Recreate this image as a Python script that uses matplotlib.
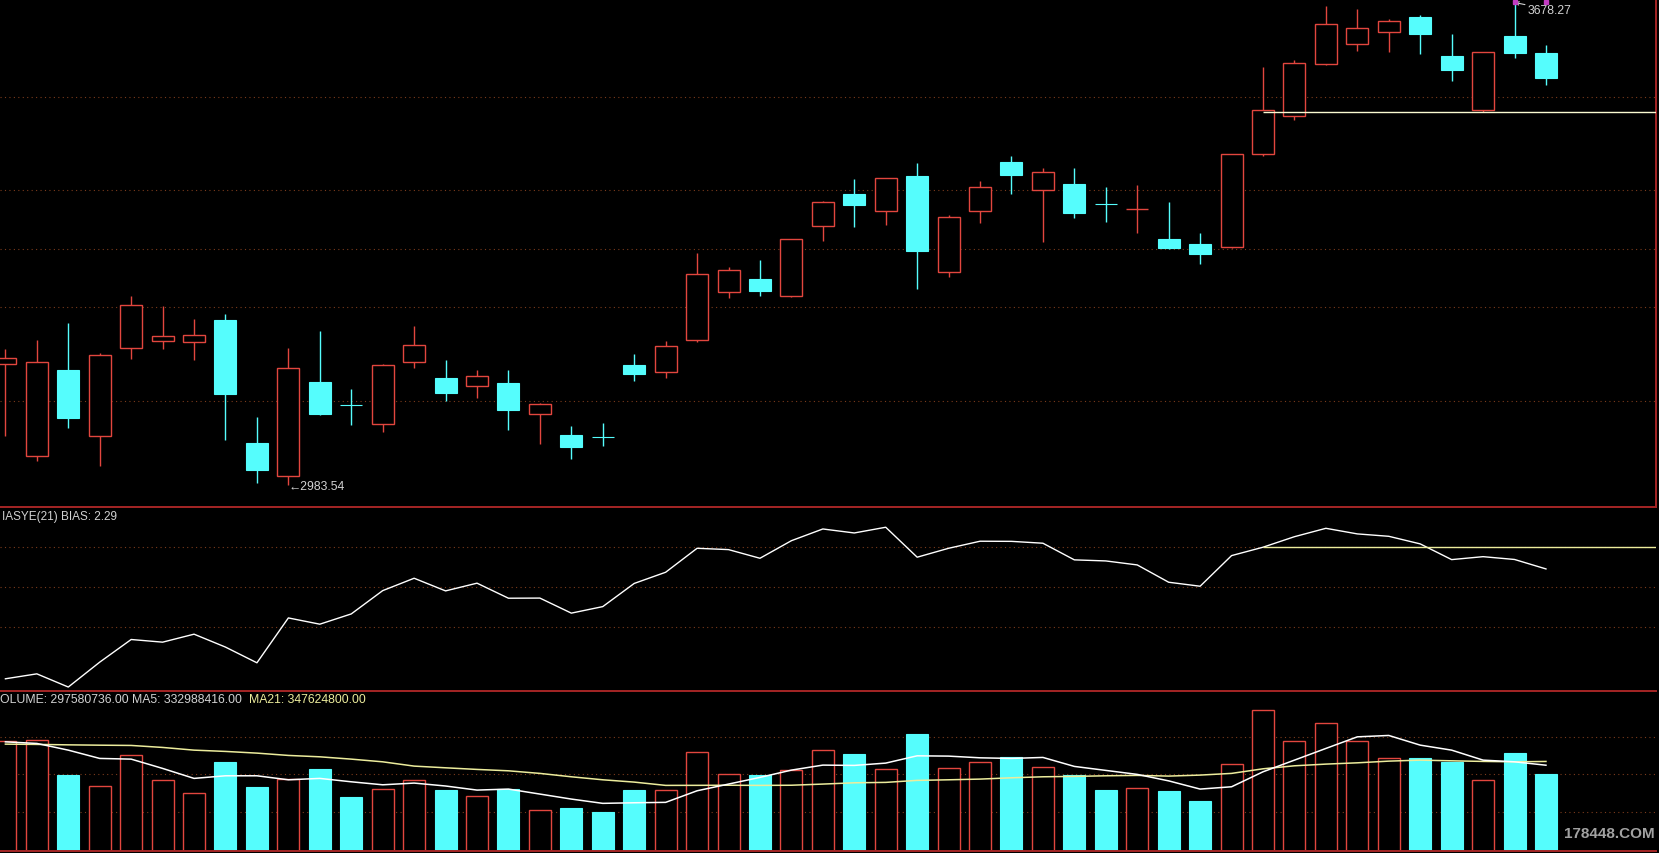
import matplotlib.pyplot as plt

# Values (index 0 = left-most candle, partly cut off)
opens = [3157.3, 3025.7, 3149.1, 3053.6, 3181.2, 3190.4, 3188.9, 3221.1, 3043.9, 2996.9,
         3131.8, 3099.0, 3070.9, 3160.1, 3137.5, 3125.6, 3130.3, 3085.3, 3055.5, 3052.2,
         3156.3, 3145.7, 3192.7, 3261.8, 3280.1, 3255.2, 3356.9, 3402.1, 3377.6, 3428.4,
         3290.6, 3377.6, 3448.6, 3408.7, 3416.9, 3387.8, 3380.8, 3337.7, 3330.1, 3325.7,
         3459.7, 3514.4, 3589.3, 3618.1, 3635.3, 3656.9, 3601.2, 3523.0, 3630.0, 3605.5]
highs = [3179.3, 3192.3, 3216.7, 3173.1, 3256.1, 3241.7, 3222.5, 3229.7, 3080.9, 3180.7,
         3205.2, 3121.7, 3157.7, 3212.4, 3163.5, 3149.1, 3149.1, 3101.1, 3068.4, 3072.7,
         3172.1, 3190.8, 3317.5, 3297.4, 3307.5, 3337.7, 3392.9, 3424.1, 3425.5, 3447.1,
         3372.3, 3421.7, 3457.2, 3439.9, 3439.9, 3412.6, 3415.5, 3391.4, 3346.3, 3460.1,
         3584.9, 3595.5, 3673.7, 3668.9, 3654.5, 3660.3, 3632.9, 3607.0, 3678.27, 3617.1]
lows = [3054.5, 3018.5, 3065.5, 3011.3, 3164.9, 3179.3, 3163.5, 3048.3, 2986.0, 2983.54,
        3084.3, 3069.9, 3060.2, 3151.9, 3104.9, 3108.7, 3062.7, 3042.5, 3020.9, 3040.1,
        3133.7, 3138.0, 3188.9, 3253.2, 3256.1, 3254.6, 3335.3, 3355.0, 3358.3, 3266.1,
        3283.4, 3360.7, 3402.9, 3333.8, 3367.9, 3362.6, 3346.3, 3323.3, 3301.7, 3325.2,
        3456.8, 3509.5, 3588.7, 3608.9, 3606.5, 3604.1, 3565.7, 3520.1, 3598.3, 3559.5]
closes = [3165.9, 3160.1, 3080.4, 3170.2, 3242.2, 3197.6, 3199.0, 3114.5, 3005.5, 3151.9,
          3085.7, 3098.5, 3155.8, 3184.6, 3116.4, 3140.9, 3091.9, 3100.1, 3038.6, 3052.0,
          3143.7, 3183.2, 3286.9, 3292.6, 3263.3, 3337.3, 3390.5, 3387.1, 3425.1, 3320.9,
          3368.9, 3412.1, 3430.3, 3434.2, 3375.6, 3387.6, 3381.0, 3325.2, 3316.5, 3459.7,
          3523.0, 3590.7, 3646.9, 3641.1, 3651.2, 3633.3, 3581.5, 3607.0, 3606.0, 3570.0]

bias = [-5.96, -5.59, -6.58, -4.71, -3.01, -3.21, -2.61, -3.58, -4.76, -1.39,
        -1.86, -1.09, 0.66, 1.59, 0.64, 1.22, 0.09, 0.10, -1.03, -0.54,
        1.20, 2.04, 3.84, 3.74, 3.09, 4.41, 5.29, 4.99, 5.42, 3.17,
        3.84, 4.37, 4.36, 4.22, 2.97, 2.89, 2.59, 1.29, 0.99, 3.29,
        3.92, 4.71, 5.34, 4.92, 4.74, 4.17, 2.99, 3.21, 3.00, 2.29]

# volume in millions of shares
volume = [427.9, 431.8, 294.5, 252.9, 371.1, 273.9, 223.3, 345.0, 247.8, 278.9,
          317.8, 208.9, 238.8, 274.2, 236.1, 211.6, 240.0, 157.2, 166.1, 150.5,
          236.1, 236.5, 383.9, 297.2, 294.5, 313.9, 391.7, 376.2, 316.6, 454.0,
          320.5, 343.9, 363.3, 324.4, 294.5, 236.1, 243.9, 232.2, 193.3, 336.1,
          547.3, 425.6, 495.6, 425.6, 359.4, 360.6, 346.2, 275.0, 380.1, 297.58]
vol_ma5 = [424.0, 417.8, 391.7, 359.4, 356.7, 320.5, 281.6, 291.8, 291.8, 276.2,
           281.6, 268.4, 256.7, 263.4, 252.0, 236.1, 240.0, 220.6, 201.1, 184.4,
           186.7, 188.3, 233.4, 259.5, 285.5, 313.9, 333.4, 332.2, 341.2, 369.6,
           368.4, 361.8, 359.4, 363.3, 328.3, 312.8, 297.2, 272.0, 240.0, 249.0,
           307.3, 352.8, 398.3, 443.5, 448.9, 411.2, 391.7, 352.8, 346.2, 332.99]
vol_ma21 = [415.1, 414.0, 412.3, 411.0, 410.0, 402.2, 391.7, 386.7, 380.1, 371.1,
            365.7, 356.7, 346.2, 329.5, 322.9, 316.6, 311.2, 301.1, 287.9, 276.2,
            267.2, 254.4, 254.6, 255.0, 254.4, 255.0, 259.5, 264.5, 266.1, 273.9,
            276.2, 278.9, 284.0, 287.9, 289.4, 291.8, 293.3, 290.6, 294.5, 301.1,
            319.0, 330.7, 337.3, 342.3, 348.9, 352.8, 350.1, 347.8, 346.2, 347.62]

price_grid = [3104.0, 3239.3, 3322.9, 3407.8, 3542.6]
bias_grid = [-2.08, 0.92, 3.92]
vol_grid = [151.7, 297.2, 443.5]
ref_start = 40          # candle where the horizontal reference lines begin
ref_price = 3520.1
ref_bias = 3.92

low_label = "2983.54"
high_label = "3678.27"
bias_title = "IASYE(21) BIAS: 2.29"
vol_title = "OLUME: 297580736.00 MA5: 332988416.00"
ma21_title = "MA21: 347624800.00"
watermark = "178448.COM"

# colours
UP = "#e2463e"
DOWN = "#55fdfd"
GRID = "#7c3b1c"
BORDER = "#a52626"
TXT = "#d2d2d2"
YEL = "#ecec9c"
FONT = ["Liberation Sans Narrow", "Liberation Sans", "DejaVu Sans"]

W, H = 1659, 854
n = len(closes)
x = list(range(n))
body_w = 0.70
xlim = (-0.172, 52.5)

fig = plt.figure(figsize=(W / 100, H / 100), dpi=100, facecolor="black")
ax_w = 1656 / W
ax_p = fig.add_axes([0, (H - 508) / H, ax_w, 508 / H])
ax_b = fig.add_axes([0, (H - 691.5) / H, ax_w, 183.5 / H])
ax_v = fig.add_axes([0, (H - 851.7) / H, ax_w, 160.2 / H])

for ax in (ax_p, ax_b, ax_v):
    ax.set_facecolor("black")
    ax.set_xticks([])
    ax.set_yticks([])
    ax.set_xlim(*xlim)
    for s in ax.spines.values():
        s.set_visible(False)

# red panel borders
for ax, side in [(ax_b, "top"), (ax_v, "top"), (ax_v, "bottom"), (ax_p, "right")]:
    ax.spines[side].set_visible(True)
    ax.spines[side].set_color(BORDER)
    ax.spines[side].set_linewidth(1.4)

dots = (0, (1, 3))

# ---- price panel ----
ax_p.set_ylim(2951.8, 3683.3)
for g in price_grid:
    ax_p.axhline(g, color=GRID, lw=0.8, ls=dots, zorder=0)

for i in x:
    o, h, l, c = opens[i], highs[i], lows[i], closes[i]
    top, bot = max(o, c), min(o, c)
    hgt = max(top - bot, 0.3)
    if c >= o:
        # hollow red body, wicks stop at the body
        ax_p.vlines(i, top, h, color=UP, lw=1.0)
        ax_p.vlines(i, l, bot, color=UP, lw=1.0)
        ax_p.bar(i, hgt, bottom=bot, width=body_w, facecolor="black",
                 edgecolor=UP, lw=1.0, zorder=3)
    else:
        ax_p.vlines(i, l, h, color=DOWN, lw=1.0)
        ax_p.bar(i, hgt, bottom=bot, width=body_w, facecolor=DOWN,
                 edgecolor=DOWN, lw=0.8, zorder=3)

ax_p.hlines(ref_price, ref_start, xlim[1], color="#fafad2", lw=1.0, zorder=4)

ax_p.text(9, lows[9] - 2, "\u2190" + low_label, color=TXT, fontsize=8.8,
          family=FONT, ha="left", va="center", zorder=5)
ax_p.annotate(high_label, xy=(48, highs[48]), xytext=(48.42, 3668.0),
              color=TXT, fontsize=8.8, family=FONT, ha="left", va="center",
              arrowprops=dict(arrowstyle="->", color=TXT, lw=0.8, shrinkA=0,
                              shrinkB=0, mutation_scale=6), zorder=5)
ax_p.plot([48, 49], [3678.8, 3678.8], "s", ms=3.5, color="#c23cc2",
          clip_on=False, zorder=6)

# ---- BIAS panel ----
ax_b.set_ylim(-6.84, 6.94)
for g in bias_grid:
    ax_b.axhline(g, color=GRID, lw=0.8, ls=dots, zorder=0)
ax_b.plot(x, bias, color="white", lw=1.0, zorder=3)
ax_b.hlines(ref_bias, ref_start, xlim[1], color=YEL, lw=1.0, zorder=4)

# ---- volume panel ----
ax_v.set_ylim(0, 624.0)
for g in vol_grid:
    ax_v.axhline(g, color=GRID, lw=0.8, ls=dots, zorder=0)
for i in x:
    if closes[i] >= opens[i]:
        ax_v.bar(i, volume[i], width=body_w, facecolor="black", edgecolor=UP,
                 lw=1.0, zorder=2)
    else:
        ax_v.bar(i, volume[i], width=body_w, facecolor=DOWN, edgecolor=DOWN,
                 lw=0.8, zorder=2)
ax_v.plot(x, vol_ma5, color="white", lw=1.1, zorder=4)
ax_v.plot(x, vol_ma21, color=YEL, lw=1.1, zorder=3)

# ---- panel titles ----
fig.text(1.5 / W, (H - 517) / H, bias_title, color=TXT, fontsize=8.5,
         family=FONT, ha="left", va="center")
t_vol = fig.text(0.5 / W, (H - 699.7) / H, vol_title, color=TXT, fontsize=8.8,
                 family=FONT, ha="left", va="center")
ax_v.annotate(ma21_title, xy=(1, 0), xycoords=t_vol, xytext=(4.5, 0),
              textcoords="offset points", color=YEL, fontsize=8.8,
              family=FONT, ha="left", va="bottom", annotation_clip=False)
fig.text(1655 / W, (H - 834) / H, watermark, color="#b4b4b4", fontsize=11,
         family=FONT, weight="bold", ha="right", va="center", alpha=0.9)

fig.savefig("out.png", dpi=100, facecolor="black")
